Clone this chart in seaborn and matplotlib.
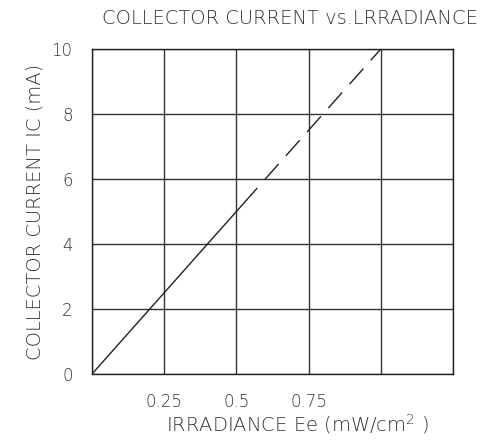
import matplotlib
matplotlib.use("Agg")
import matplotlib.pyplot as plt
import seaborn as sns
import pandas as pd

sns.set_theme(style="white")
plt.rcParams['font.family'] = ['DejaVu Sans']
plt.rcParams['mathtext.fontset'] = 'custom'
plt.rcParams['mathtext.rm'] = 'DejaVu Sans:light'

# measured curve: solid part, then dashed extrapolation
irr_solid = [0.0, 0.55]
ic_solid = [0.0, 5.5]
irr_dash = [0.55, 1.0]
ic_dash = [5.5, 10.0]

x_ticks = [0.0, 0.25, 0.5, 0.75, 1.0, 1.25]
x_labels = ['', '0.25', '0.5', '0.75', '', '']
y_ticks = [0, 2, 4, 6, 8, 10]

df_solid = pd.DataFrame({'irr': irr_solid, 'ic': ic_solid})
df_dash = pd.DataFrame({'irr': irr_dash, 'ic': ic_dash})

fig = plt.figure(figsize=(4.92, 4.41), dpi=100)
ax = fig.add_axes([92/492, 1 - 374/441, 361/492, 325/441])

line_col = '#222222'
sns.lineplot(data=df_solid, x='irr', y='ic', ax=ax, color=line_col, linewidth=1.0)
sns.lineplot(data=df_dash, x='irr', y='ic', ax=ax, color=line_col, linewidth=1.0)
ax.lines[-1].set_linestyle((8, (15, 8)))

ax.set_xlim(0, 1.25)
ax.set_ylim(0, 10)
ax.set_xticks(x_ticks)
ax.set_xticklabels(x_labels)
ax.set_yticks(y_ticks)
ax.set_yticklabels([str(v) for v in y_ticks])
ax.tick_params(axis='both', length=0, labelsize=12, colors='#333333')
ax.tick_params(axis='y', pad=14)
ax.tick_params(axis='x', pad=14)
for lab in ax.get_xticklabels() + ax.get_yticklabels():
    lab.set_fontweight('light')
ax.grid(True, color='#333333', linewidth=1.0)
ax.set_axisbelow(True)
for s in ax.spines.values():
    s.set_visible(True)
    s.set_color('#222222')
    s.set_linewidth(1.0)
ax.set_xlabel('')
ax.set_ylabel('')

txt_col = '#333333'
fig.text(290/492, 1 - 18/441, 'COLLECTOR CURRENT vs.LRRADIANCE', ha='center', va='center',
         fontsize=14, color=txt_col, fontweight='light')
fig.text(35/492, 1 - 212/441, 'COLLECTOR CURRENT IC (mA)', ha='center', va='center',
         rotation=90, fontsize=14, color=txt_col, fontweight='light')
fig.text(297/492, 1 - 424/441, r'IRRADIANCE Ee (mW/cm$^{\mathrm{2}}$ )', ha='center', va='center',
         fontsize=14, color=txt_col, fontweight='light')

fig.savefig('out.png', dpi=100, facecolor='white')
